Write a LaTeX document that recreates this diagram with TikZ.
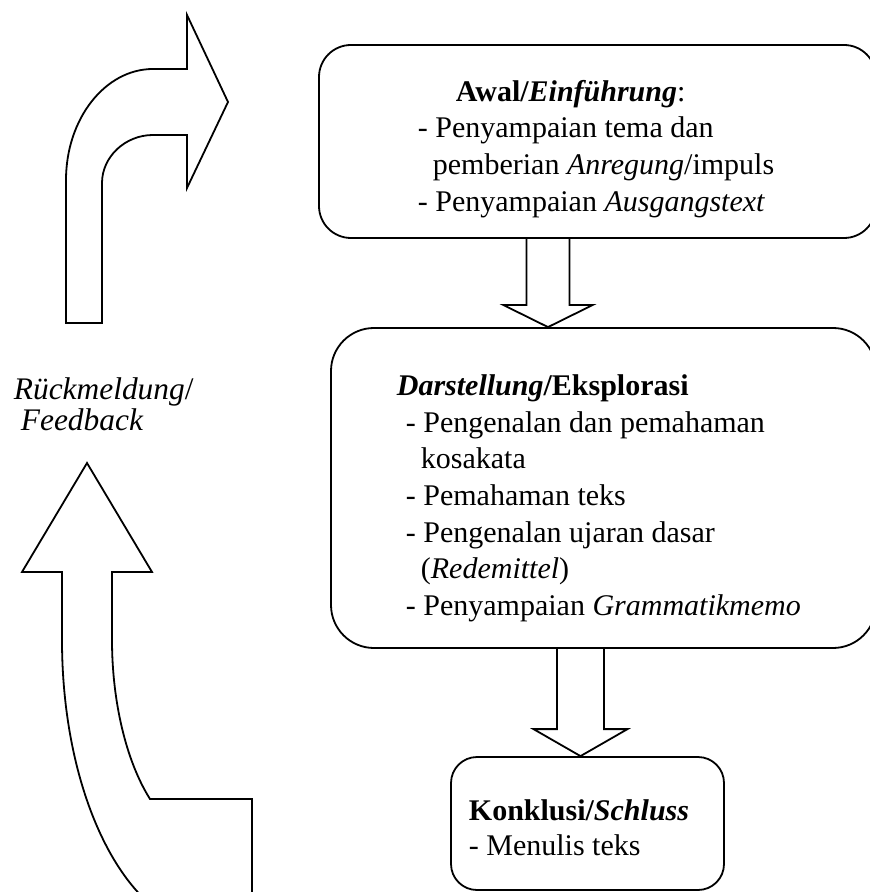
\documentclass[tikz,border=0pt]{standalone}
\usepackage{fontspec}
\setmainfont{Liberation Serif}
\usetikzlibrary{calc}
\begin{document}
\begin{tikzpicture}[x=0.5pt,y=-0.5pt,line width=0.9pt,
  txt/.style={anchor=base west,inner sep=0pt,font=\fontsize{15}{18}\selectfont},
  lbl/.style={anchor=base west,inner sep=0pt,font=\fontsize{15.7}{18}\selectfont},
  box/.style={draw,rectangle,inner sep=0pt},
  blockarrow/.style={draw,line join=miter}]
\path[use as bounding box,clip] (0,0) rectangle (870,892);

% boxes
\node[box,rounded corners=16pt,minimum width=278.5pt,minimum height=96.5pt] (top) at (597.5,141.5) {};
\node[box,rounded corners=21.5pt,minimum width=272.5pt,minimum height=160pt] (mid) at (603.5,488) {};
\node[box,rounded corners=13pt,minimum width=136.5pt,minimum height=66.5pt] (bot) at (587.5,823.5) {};

% texts of top box
\node[txt] (t1) at (455,102) {\textbf{Awal/\textit{Einführung}}:};
\node[txt] (t2) at (417,138) {- Penyampaian tema dan};
\node[txt] (t3) at (432,175) {pemberian \textit{Anregung}/impuls};
\node[txt] (t4) at (417,212) {- Penyampaian \textit{Ausgangstext}};

% texts of middle box
\node[txt] (m1) at (396,395) {\textbf{\textit{Darstellung}/Eksplorasi}};
\node[txt] (m2) at (405,432) {- Pengenalan dan pemahaman};
\node[txt] (m3) at (420,468) {kosakata};
\node[txt] (m4) at (405,505) {- Pemahaman teks};
\node[txt] (m5) at (405,542) {- Pengenalan ujaran dasar};
\node[txt] (m6) at (420,578) {(\textit{Redemittel})};
\node[txt] (m7) at (405,615) {- Penyampaian \textit{Grammatikmemo}};

% texts of bottom box
\node[txt] (b1) at (468,820) {\textbf{Konklusi/\textit{Schluss}}};
\node[txt] (b2) at (468,855) {- Menulis teks};

% feedback label
\node[lbl] (fb1) at (13,400) {\textit{Rückmeldung}/};
\node[lbl] (fb2) at (20,430) {\textit{Feedback}};

% block arrow top -> mid
\coordinate (d1s) at ($(top.south)+(-49.5,0)$);
\coordinate (d1e) at (d1s |- mid.north);
\draw[blockarrow] ($(d1s)+(-21.5,0)$) -- ($(d1e)+(-21.5,-22)$) -- ($(d1e)+(-44.5,-22)$)
  -- (d1e) -- ($(d1e)+(44.5,-22)$) -- ($(d1e)+(21.5,-22)$) -- ($(d1s)+(21.5,0)$);

% block arrow mid -> bot
\coordinate (d2s) at ($(mid.south)+(-23,0)$);
\coordinate (d2e) at (d2s |- bot.north);
\draw[blockarrow] ($(d2s)+(-23.5,0)$) -- ($(d2e)+(-23.5,-27)$) -- ($(d2e)+(-47,-27)$)
  -- (d2e) -- ($(d2e)+(47,-27)$) -- ($(d2e)+(23.5,-27)$) -- ($(d2s)+(23.5,0)$);

% curved arrow top-left (towards top box)
\draw[line join=miter] (66,323) -- (66,180) .. controls (66,119) and (105,69) .. (153,69)
  -- (187,69) -- (187,15) -- (228,102) -- (187,188) -- (187,135) -- (153,135)
  .. controls (125,135) and (102,157) .. (102,183) -- (102,323) -- cycle;

% curved arrow bottom-left (from bottom, upwards)
\draw[line join=miter] (87,463) -- (152,572) -- (112,572) -- (112,640)
  .. controls (112,701) and (126,761) .. (150,799) -- (252,799) -- (252,950)
  -- (212,950) -- (212,930) .. controls (129,930) and (62,800) .. (62,640)
  -- (62,572) -- (22,572) -- cycle;
\end{tikzpicture}
\end{document}
